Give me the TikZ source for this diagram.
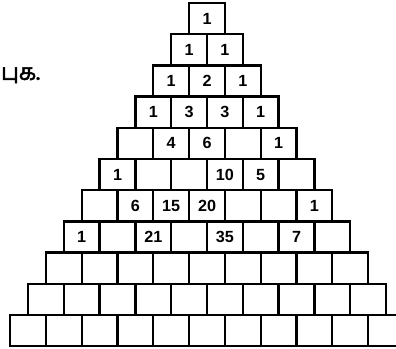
\documentclass[tikz,border=0pt]{standalone}
\usepackage{fontspec}
\setmainfont{Liberation Sans}
\newfontfamily\tamilfont[Script=Tamil, AutoFakeBold=2.5]{Hind Madurai}
\usetikzlibrary{positioning}

\begin{document}
\begin{tikzpicture}[on grid, node distance=0.78cm and 0.895cm, every node/.style={draw, line width=1.6pt, minimum width=0.895cm, minimum height=0.78cm, inner sep=0pt, font=\bfseries\fontsize{11.5}{13}\selectfont}]
  \useasboundingbox (0,0) rectangle (9.9,-8.725);
  \node[draw=none, minimum width=0pt, anchor=west, font=\tamilfont\bfseries\fontsize{16}{18}\selectfont] (task) at (0,-1.88) {புக.};
  % row 1
  \node (r11) at (5.175,-0.465) {1};
  % row 2
  \node (r21) [below left=0.78cm and 0.4475cm of r11] {1};
  \node (r22) [right=of r21] {1};
  % row 3
  \node (r31) [below left=0.78cm and 0.4475cm of r21] {1};
  \node (r32) [right=of r31] {2};
  \node (r33) [right=of r32] {1};
  % row 4
  \node (r41) [below left=0.78cm and 0.4475cm of r31] {1};
  \node (r42) [right=of r41] {3};
  \node (r43) [right=of r42] {3};
  \node (r44) [right=of r43] {1};
  % row 5
  \node (r51) [below left=0.78cm and 0.4475cm of r41] {};
  \node (r52) [right=of r51] {4};
  \node (r53) [right=of r52] {6};
  \node (r54) [right=of r53] {};
  \node (r55) [right=of r54] {1};
  % row 6
  \node (r61) [below left=0.78cm and 0.4475cm of r51] {1};
  \node (r62) [right=of r61] {};
  \node (r63) [right=of r62] {};
  \node (r64) [right=of r63] {10};
  \node (r65) [right=of r64] {5};
  \node (r66) [right=of r65] {};
  % row 7
  \node (r71) [below left=0.78cm and 0.4475cm of r61] {};
  \node (r72) [right=of r71] {6};
  \node (r73) [right=of r72] {15};
  \node (r74) [right=of r73] {20};
  \node (r75) [right=of r74] {};
  \node (r76) [right=of r75] {};
  \node (r77) [right=of r76] {1};
  % row 8
  \node (r81) [below left=0.78cm and 0.4475cm of r71] {1};
  \node (r82) [right=of r81] {};
  \node (r83) [right=of r82] {21};
  \node (r84) [right=of r83] {};
  \node (r85) [right=of r84] {35};
  \node (r86) [right=of r85] {};
  \node (r87) [right=of r86] {7};
  \node (r88) [right=of r87] {};
  % row 9
  \node (r91) [below left=0.78cm and 0.4475cm of r81] {};
  \node (r92) [right=of r91] {};
  \node (r93) [right=of r92] {};
  \node (r94) [right=of r93] {};
  \node (r95) [right=of r94] {};
  \node (r96) [right=of r95] {};
  \node (r97) [right=of r96] {};
  \node (r98) [right=of r97] {};
  \node (r99) [right=of r98] {};
  % row 10
  \node (r101) [below left=0.78cm and 0.4475cm of r91] {};
  \node (r102) [right=of r101] {};
  \node (r103) [right=of r102] {};
  \node (r104) [right=of r103] {};
  \node (r105) [right=of r104] {};
  \node (r106) [right=of r105] {};
  \node (r107) [right=of r106] {};
  \node (r108) [right=of r107] {};
  \node (r109) [right=of r108] {};
  \node (r1010) [right=of r109] {};
  % row 11
  \node (r111) [below left=0.78cm and 0.4475cm of r101] {};
  \node (r112) [right=of r111] {};
  \node (r113) [right=of r112] {};
  \node (r114) [right=of r113] {};
  \node (r115) [right=of r114] {};
  \node (r116) [right=of r115] {};
  \node (r117) [right=of r116] {};
  \node (r118) [right=of r117] {};
  \node (r119) [right=of r118] {};
  \node (r1110) [right=of r119] {};
  \node (r1111) [right=of r1110] {};
\end{tikzpicture}
\end{document}
